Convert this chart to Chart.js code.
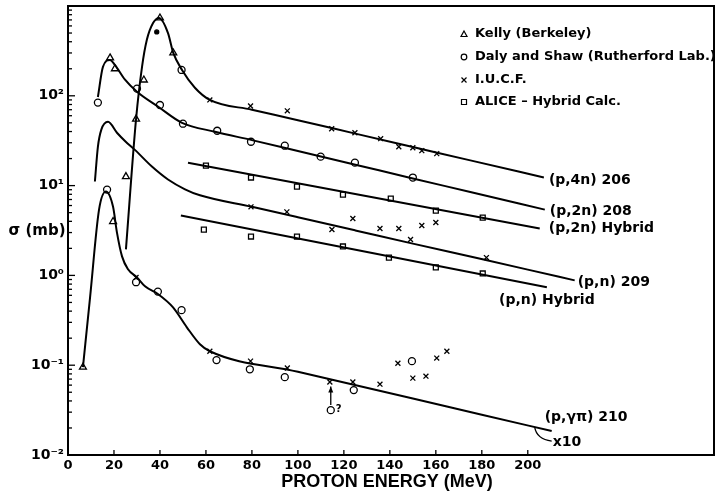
<!DOCTYPE html>
<html lang="en">
<head>
<meta charset="UTF-8">
<title>Proton cross sections</title>
<script src="https://cdn.jsdelivr.net/npm/chart.js@4/dist/chart.umd.min.js"></script>
<style>
  body { margin: 0; background: #fff; }
</style>
</head>
<body>
<canvas id="myChart" width="722" height="495"></canvas>
<script>
// ---- data (energy in MeV, sigma in mb) ----
// smooth hand-drawn curves
const p4nE = [25.2, 29.6, 32.2, 34.3, 37, 39.6, 43.5, 45.8, 49.6, 55.2, 61.7, 80, 100, 125, 150, 175, 207];
const p4nS = [1.95, 55, 210, 420, 646, 736, 500, 300, 194, 123, 90, 70, 53.5, 37.9, 26.9, 19.1, 12.3];

const p2nE = [13, 15.2, 18.3, 20.4, 24.8, 30, 39.1, 49.6, 63.9, 80, 100, 125, 150, 175, 207.4];
const p2nS = [97, 210, 251, 221, 151, 111, 76, 50, 39.8, 32.1, 24.3, 17.1, 12.0, 8.5, 5.4];

const pnE = [11.7, 13, 14.5, 17.4, 21.3, 25, 29.1, 36.5, 43.5, 50.9, 57.4, 80, 100, 125, 150, 175, 200, 220.4];
const pnS = [11.1, 27, 42, 51.4, 38.8, 31, 25, 16.3, 11.7, 9.1, 7.8, 5.8, 4.44, 3.17, 2.26, 1.62, 1.16, 0.88];

const pgE = [6.5, 9.6, 13.5, 16.5, 19.6, 21.3, 23.5, 26.1, 30, 33.5, 39.1, 45.7, 51.7, 57.4, 61.7, 100, 150, 180, 210.4];
const pgS = [0.095, 0.57, 5.4, 8.6, 5.8, 3.0, 1.63, 1.17, 0.95, 0.755, 0.62, 0.44, 0.264, 0.171, 0.143, 0.0845, 0.0425, 0.0281, 0.0185];

// straight hybrid-calculation lines
const h2nE = [52.2, 205.2];
const h2nS = [18, 3.33];
const hnE = [49.1, 208.3];
const hnS = [4.64, 0.736];

// measured points
const kellyE = [6.5, 18.3, 19.6, 20.4, 25.2, 29.6, 33, 40, 45.8];
const kellyS = [0.095, 264, 3.98, 200, 12.6, 55, 150, 736, 300];

const dalyE = [13, 17, 30, 40, 49.4, 50, 64.9, 79.6, 94.3, 109.9, 124.8, 150,
               29.6, 39.1, 49.4, 64.6, 79.1, 94.3, 114.3, 124.3, 149.6];
const dalyS = [84, 9.03, 120, 79, 194, 48.9, 40.8, 30.8, 27.8, 21, 18, 12.3,
               0.84, 0.66, 0.41, 0.114, 0.090, 0.0736, 0.0316, 0.0528, 0.111];

const iucfE = [61.7, 79.4, 95.4, 114.7, 124.8, 136, 143.9, 150, 153.9, 160.4,
               79.6, 95.2, 114.8, 123.9, 135.7, 143.9, 149, 153.9, 160, 182,
               29.6, 61.7, 79.4, 95.4, 113.9, 123.9, 135.7, 143.5, 150, 155.7, 160.4, 164.8];
const iucfS = [90, 77, 68, 43, 38.8, 33.3, 27.1, 26.4, 24.5, 22.7,
               5.8, 5.1, 3.24, 4.3, 3.33, 3.33, 2.51, 3.59, 3.88, 1.58,
               0.95, 0.143, 0.111, 0.093, 0.065, 0.065, 0.0615, 0.105, 0.0718, 0.0755, 0.12, 0.143];

const aliceE = [60, 79.6, 99.6, 119.6, 140.4, 160, 180.4, 59.1, 79.6, 99.6, 119.6, 139.6, 160, 180.4];
const aliceS = [16.7, 12.3, 9.75, 7.94, 7.17, 5.27, 4.4, 3.24, 2.71, 2.71, 2.1, 1.58, 1.23, 1.05];

const dotE = [38.6];
const dotS = [514];

const xTickVals = [0, 20, 40, 60, 80, 100, 120, 140, 160, 180, 200];
const yTickVals = [0.01, 0.1, 1, 10, 100, 1000];
const yTickText = ['10\u207B\u00B2', '10\u207B\u00B9', '10\u2070', '10\u00B9', '10\u00B2', ''];

const legendText = ['Kelly (Berkeley)', 'Daly and Shaw (Rutherford Lab.)', 'I.U.C.F.', 'ALICE \u2013 Hybrid Calc.'];
const curveText = ['(p,4n) 206', '(p,2n) 208', '(p,n) 209', '(p,\u03B3\u03C0) 210', '(p,2n) Hybrid', '(p,n) Hybrid'];

const FONT = '"DejaVu Sans", sans-serif';

function pts(e, s) { return e.map((v, i) => ({x: v, y: s[i]})); }

function curve(e, s) {
    return {type: 'line', data: pts(e, s), borderColor: '#000', borderWidth: 2, pointRadius: 0,
            cubicInterpolationMode: 'monotone', fill: false, order: 2};
}
function marks(e, s, style, r) {
    return {type: 'scatter', data: pts(e, s), pointStyle: style, pointRadius: r, pointHoverRadius: r,
            borderColor: '#000', backgroundColor: 'rgba(0,0,0,0)', pointBorderWidth: 1.3, order: 1};
}

const datasets = [
    curve(p4nE, p4nS), curve(p2nE, p2nS), curve(pnE, pnS), curve(pgE, pgS),
    curve(h2nE, h2nS), curve(hnE, hnS),
    marks(kellyE, kellyS, 'triangle', 4),
    marks(dalyE, dalyS, 'circle', 3.5),
    marks(iucfE, iucfS, 'crossRot', 3.5),
    marks(aliceE, aliceS, 'rect', 3.5),
    Object.assign(marks(dotE, dotS, 'circle', 2), {backgroundColor: '#000'})
];

function line(ctx, x1, y1, x2, y2) { ctx.beginPath(); ctx.moveTo(x1, y1); ctx.lineTo(x2, y2); ctx.stroke(); }

const annot = {
    id: 'annot',
    afterDraw(chart) {
        const {ctx, chartArea: a, scales: {x, y}} = chart;
        ctx.save();
        ctx.strokeStyle = '#000';
        ctx.fillStyle = '#000';
        // frame
        ctx.lineWidth = 2;
        ctx.strokeRect(a.left, a.top, a.right - a.left, a.bottom - a.top);
        // inward ticks
        ctx.lineWidth = 1.3;
        for (let d = -2; d < 3; d++) {
            for (let m = 1; m < 10; m++) {
                const py = y.getPixelForValue(m * Math.pow(10, d));
                line(ctx, a.left, py, a.left + (m === 1 ? 7 : 4), py);
            }
        }
        xTickVals.forEach(v => { const px = x.getPixelForValue(v); line(ctx, px, a.bottom, px, a.bottom - 5); });

        // axis titles
        ctx.textBaseline = 'middle';
        ctx.textAlign = 'center';
        ctx.font = 'bold 15px ' + FONT;
        ctx.fillText('\u03C3 (mb)', 37, 231);
        ctx.font = 'bold 18px "Liberation Sans", sans-serif';
        ctx.fillText('PROTON ENERGY (MeV)', 387, 482);

        // legend
        ctx.font = 'bold 13px ' + FONT;
        ctx.textAlign = 'left';
        ctx.lineWidth = 1.2;
        const lx = 464, rows = [34, 57, 80, 102];
        rows.forEach((ry, i) => {
            ctx.beginPath();
            if (i === 0) { ctx.moveTo(lx, ry - 3); ctx.lineTo(lx + 3, ry + 2.5); ctx.lineTo(lx - 3, ry + 2.5); ctx.closePath(); }
            if (i === 1) { ctx.arc(lx, ry, 2.8, 0, Math.PI * 2); }
            if (i === 2) { ctx.moveTo(lx - 2.5, ry - 2.5); ctx.lineTo(lx + 2.5, ry + 2.5); ctx.moveTo(lx + 2.5, ry - 2.5); ctx.lineTo(lx - 2.5, ry + 2.5); }
            if (i === 3) { ctx.rect(lx - 2.5, ry - 2.5, 5, 5); }
            ctx.stroke();
            ctx.fillText(legendText[i], lx + 11, ry);
        });

        // curve labels at line ends
        ctx.font = 'bold 14px ' + FONT;
        const end = (e, s) => ({px: x.getPixelForValue(e[e.length - 1]), py: y.getPixelForValue(s[s.length - 1])});
        let p = end(p4nE, p4nS); ctx.fillText(curveText[0], p.px + 5, p.py + 3);
        p = end(p2nE, p2nS); ctx.fillText(curveText[1], p.px + 5, p.py + 2);
        p = end(pnE, pnS); ctx.fillText(curveText[2], p.px + 3, p.py + 2);
        p = end(h2nE, h2nS); ctx.fillText(curveText[4], p.px + 9, p.py);
        p = end(hnE, hnS); ctx.textAlign = 'center'; ctx.fillText(curveText[5], p.px, p.py + 13); ctx.textAlign = 'left';
        p = end(pgE, pgS); ctx.fillText(curveText[3], p.px - 7, p.py - 14);

        // "x10" pointer
        const n = pgE.length;
        const t = (203 - pgE[n - 2]) / (pgE[n - 1] - pgE[n - 2]);
        const ly = Math.pow(10, Math.log10(pgS[n - 2]) + t * (Math.log10(pgS[n - 1]) - Math.log10(pgS[n - 2])));
        const qx = x.getPixelForValue(203), qy = y.getPixelForValue(ly);
        ctx.lineWidth = 1.3;
        ctx.beginPath(); ctx.moveTo(qx, qy); ctx.quadraticCurveTo(qx + 2, qy + 12, qx + 17, qy + 14); ctx.stroke();
        ctx.fillText('x10', qx + 18, qy + 15);

        // arrow from the doubtful point
        const ax = x.getPixelForValue(114.3);
        const a1 = y.getPixelForValue(0.036), a2 = y.getPixelForValue(0.058);
        line(ctx, ax, a1, ax, a2);
        ctx.beginPath(); ctx.moveTo(ax, a2); ctx.lineTo(ax - 2.5, a2 + 6); ctx.lineTo(ax + 2.5, a2 + 6); ctx.closePath(); ctx.fill();
        ctx.font = 'bold 10px ' + FONT;
        const qy2 = y.getPixelForValue(0.0316);
        ctx.fillText('?', ax + 5, qy2 - 1);
        ctx.restore();
    }
};

const ctx = document.getElementById('myChart').getContext('2d');
const myChart = new Chart(ctx, {
    data: {datasets: datasets},
    options: {
        responsive: false,
        animation: false,
        layout: {padding: {top: 6, right: 8, left: 0, bottom: 0}},
        plugins: {legend: {display: false}, tooltip: {enabled: false}},
        scales: {
            x: {
                type: 'linear', min: 0, max: 281,
                grid: {display: false, drawTicks: false}, border: {display: false},
                afterBuildTicks: s => { s.ticks = xTickVals.map(v => ({value: v})); },
                ticks: {color: '#000', padding: 3, maxRotation: 0, autoSkip: false,
                        font: {family: FONT, size: 13, weight: 'bold'}},
                afterFit: s => { s.height = 40; s.paddingLeft = 0; s.paddingRight = 0; }
            },
            y: {
                type: 'logarithmic', min: 0.01, max: 1000,
                grid: {display: false, drawTicks: false}, border: {display: false},
                afterBuildTicks: s => { s.ticks = yTickVals.map(v => ({value: v})); },
                ticks: {color: '#000', padding: 4, autoSkip: false,
                        callback: (v, i) => yTickText[i],
                        font: {family: FONT, size: 14, weight: 'bold'}},
                afterFit: s => { s.width = 68; s.paddingTop = 0; s.paddingBottom = 0; }
            }
        }
    },
    plugins: [annot]
});
</script>
</body>
</html>
